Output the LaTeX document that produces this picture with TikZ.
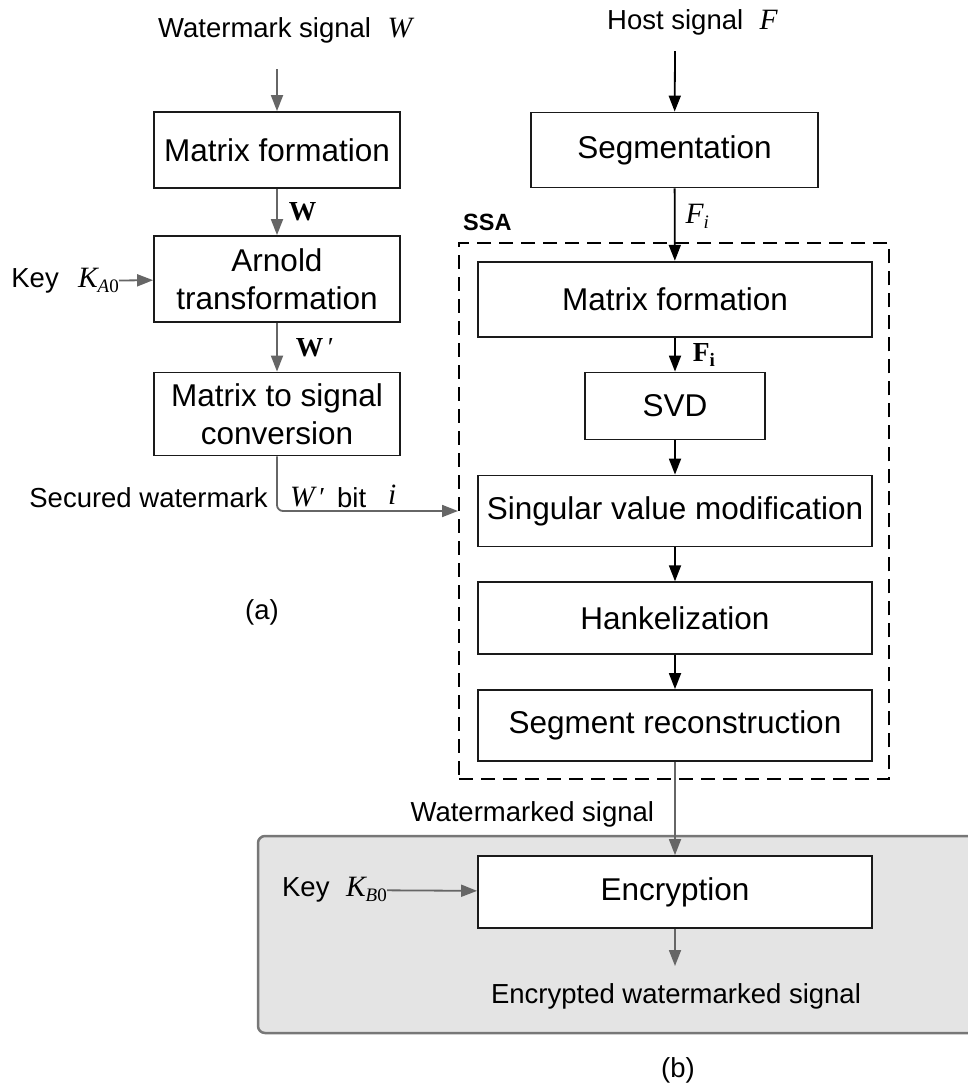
\documentclass[tikz,border=0pt]{standalone}
\usepackage{fontspec}
\setmainfont{Liberation Sans}
\newfontfamily\tms{Liberation Serif}
\usetikzlibrary{arrows.meta}

\definecolor{boxline}{HTML}{1A1A1A}
\definecolor{grayline}{HTML}{666666}
\definecolor{panelfill}{HTML}{E4E4E4}
\definecolor{panelline}{HTML}{777777}

% italic / bold symbols and lowered subscripts
\newcommand\mvar[1]{{\fontsize{29.5}{33}\selectfont\tms\itshape #1}}
\newcommand\svar[1]{{\tms\itshape #1}}
\newcommand\bvar[1]{{\tms\bfseries #1}}
\newcommand\lowsub[1]{\raisebox{-0.35ex}{\fontsize{19}{19}\selectfont #1}}
\newcommand\boxfont{\fontsize{31.5}{38.5}\selectfont}
\newcommand\lblfont{\fontsize{27.5}{33}\selectfont}

\tikzset{
  procbox/.style={draw=boxline, line width=1.8pt, fill=white, inner sep=0pt,
    align=center, font=\boxfont},
  lbl/.style={font=\lblfont, inner sep=0pt},
  garrow/.style={draw=grayline, line width=1.8pt,
    -{Triangle[length=16pt,width=12pt]}},
  barrow/.style={draw=black, line width=1.8pt,
    -{Triangle[length=16pt,width=12pt]}},
  ssaframe/.style={draw=black, line width=2pt, dash pattern=on 14pt off 8pt,
    inner sep=0pt},
}

\begin{document}
\begin{tikzpicture}[x=1pt,y=-1pt]
\useasboundingbox (0,0) rectangle (968,1088);

% ---------- encryption panel (b) ----------
\draw[fill=panelfill, draw=panelline, line width=2.5pt, rounded corners=7pt]
  (258,836) rectangle (1000,1033);

% ---------- watermark preparation (a) ----------
\node[lbl, anchor=west] (wmsig) at (158,30) {Watermark signal\hspace{0.6em}\mvar{W}};
\coordinate (wmin) at (277,69);
\node[procbox, minimum width=246pt, minimum height=76pt] (mfa) at (277,150) {Matrix formation};
\node[procbox, minimum width=246pt, minimum height=86pt] (arn) at (277,279) {Arnold\\transformation};
\node[procbox, minimum width=246pt, minimum height=83pt] (mts) at (277,414) {Matrix to signal\\conversion};

\draw[garrow] (wmin) -- (mfa);
\draw[garrow] (mfa) -- node[lbl, right=11pt] (wlab) {\bvar{W}} (arn);
\draw[garrow] (arn) -- node[lbl, right=18pt] (wplab) {\bvar{W}\,{\tms ′}} (mts);

\node[lbl, anchor=east] (keya) at (119,281) {Key\hspace{0.7em}\mvar{K}\lowsub{\svar{A}{\tms 0}}};
\draw[garrow] (keya) -- (arn);

\node[lbl] (capa) at (262,612) {(a)};

% ---------- SSA embedding ----------
\node[lbl, anchor=west] (host) at (607,22) {Host signal\hspace{0.6em}\mvar{F}};
\coordinate (hostin) at (675,51);
\node[procbox, minimum width=287pt, minimum height=75pt] (seg) at (674.5,150) {Segmentation};

\node[ssaframe, minimum width=430pt, minimum height=536pt] (ssa) at (674,511.3) {};
\node[font=\bfseries\fontsize{23.5}{28}\selectfont, inner sep=0pt, anchor=west] (ssalab) at (463,222) {SSA};

\node[procbox, minimum width=394pt, minimum height=75pt] (mfb) at (675,299.2) {Matrix formation};
\node[procbox, minimum width=180pt, minimum height=67pt] (svd) at (675,406) {SVD};
\node[procbox, minimum width=394pt, minimum height=71pt] (svm) at (675,511) {Singular value modification};
\node[procbox, minimum width=394pt, minimum height=72pt] (hank) at (675,618.2) {Hankelization};
\node[procbox, minimum width=394pt, minimum height=71pt] (srec) at (675,725.5) {Segment reconstruction};

\draw[barrow] (hostin) -- (seg);
\draw[barrow] (seg) -- node[lbl, pos=0.38, right=10pt] (filab) {\mvar{F}\lowsub{\svar{i}}} (mfb);
\draw[barrow] (mfb) -- node[lbl, right=17pt] (fblab) {\bvar{F}\lowsub{\bvar{i}}} (svd);
\draw[barrow] (svd) -- (svm);
\draw[barrow] (svm) -- (hank);
\draw[barrow] (hank) -- (srec);

% secured watermark bit into the SSA block
\draw[garrow, rounded corners=6pt] (mts.south) |- (ssa.west |- svm.center);
\node[lbl, anchor=east] (secw) at (268,498) {Secured watermark};
\node[lbl, anchor=west] (wbit) at (290,497) {\mvar{W}\,{\tms ′}};
\node[lbl, anchor=west] (bitw) at (337,498) {bit};
\node[lbl, anchor=west] (bitidx) at (388,495) {\mvar{i}};

% ---------- encryption ----------
\node[procbox, minimum width=394pt, minimum height=72pt] (enc) at (675,892) {Encryption};
\draw[garrow] (srec) -- node[lbl, pos=0.56, left=20pt] (wmd) {Watermarked signal} (enc);

\node[lbl, anchor=east] (keyb) at (387,890) {Key\hspace{0.6em}\mvar{K}\lowsub{\svar{B}{\tms 0}}};
\draw[garrow] (keyb) -- (enc);

\coordinate (encout) at (675,966);
\draw[garrow] (enc) -- (encout);
\node[lbl] (ews) at (676,996) {Encrypted watermarked signal};

\node[lbl] (capb) at (678,1070) {(b)};
\end{tikzpicture}
\end{document}
